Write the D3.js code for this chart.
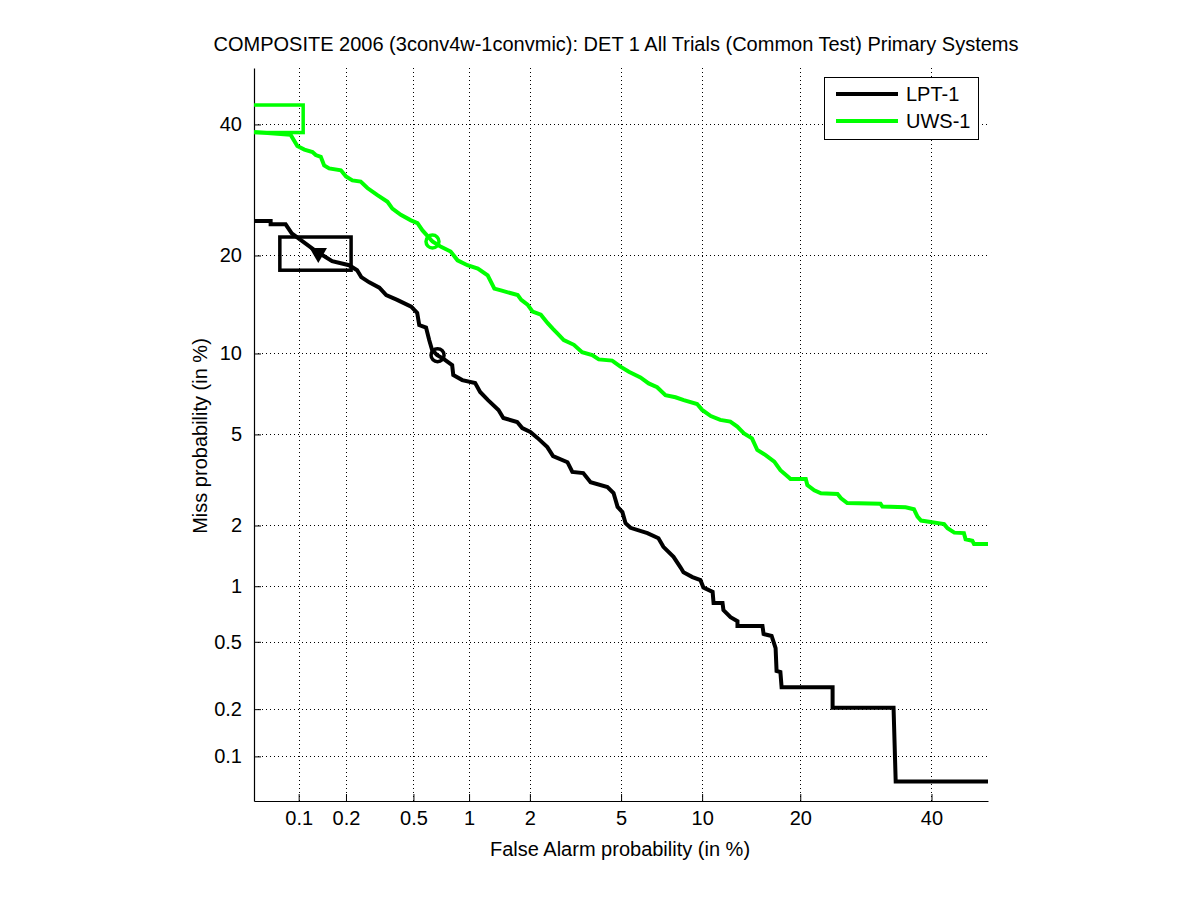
<!DOCTYPE html>
<html><head><meta charset="utf-8">
<script src="https://cdn.jsdelivr.net/npm/d3@7/dist/d3.min.js"></script>
<style>
body{margin:0;background:#fff;}
svg{display:block;font-family:"Liberation Sans",Arial,Helvetica,sans-serif;}
</style></head>
<body>
<svg id="chart" width="1201" height="900"></svg>
<script>
// ---- data (percent) ----
const tickValues = [0.1, 0.2, 0.5, 1, 2, 5, 10, 20, 40];
const tickLabels = ["0.1", "0.2", "0.5", "1", "2", "5", "10", "20", "40"];
const axisLimits = [0.05, 50];

const seriesNames = ["LPT-1", "UWS-1"];
const seriesColors = ["#000000", "#00ff00"];

const lptFA = [0.05,0.065,0.065,0.082,0.090,0.126,0.164,0.209,0.234,0.248,0.277,0.318,0.349,0.404,0.486,0.525,0.539,0.588,0.612,0.635,0.677,0.730,0.815,0.826,0.921,1.075,1.14,1.25,1.41,1.49,1.74,1.84,2.01,2.17,2.41,2.56,2.97,3.12,3.48,3.74,4.40,4.66,4.84,5.06,5.21,5.45,6.34,6.98,7.28,7.93,8.40,8.61,9.26,9.87,10.1,10.85,10.93,11.7,11.78,12.42,13.07,13.07,15.6,15.72,16.6,17.05,17.16,17.6,17.74,24.3,24.3,33.6,33.95,50];
const lptMiss = [24.6,24.6,24.15,24.15,22.9,20.7,19.3,18.8,18.2,17.4,16.8,16.2,15.4,14.9,14.2,13.57,12.42,12.2,11.1,10.28,9.87,9.6,9.11,8.41,8.06,7.86,7.29,6.80,6.24,5.81,5.60,5.30,5.11,4.84,4.44,4.07,3.84,3.49,3.45,3.15,3.00,2.82,2.44,2.31,2.05,1.95,1.84,1.74,1.58,1.41,1.25,1.18,1.115,1.075,0.985,0.934,0.815,0.815,0.748,0.685,0.651,0.612,0.612,0.553,0.539,0.461,0.340,0.335,0.272,0.272,0.204,0.204,0.068,0.068];

const uwsFA = [0.05,0.0886,0.098,0.109,0.123,0.129,0.139,0.146,0.157,0.186,0.2,0.219,0.246,0.27,0.31,0.355,0.379,0.424,0.484,0.527,0.562,0.638,0.71,0.80,0.87,0.98,1.11,1.245,1.345,1.45,1.75,1.82,1.95,2.06,2.25,2.42,2.55,2.67,2.86,3.17,3.44,3.80,4.05,4.60,4.97,5.37,5.96,6.41,6.90,7.41,8.06,8.63,9.61,10.0,10.7,11.5,12.4,13.05,13.7,14.5,15.05,15.9,16.9,17.6,18.6,18.8,20.7,20.9,21.8,22.7,25.0,25.5,26.4,31.5,31.8,35.6,37.0,37.6,38.2,42.2,42.8,44.0,45.7,46.0,47.2,47.5,50];
const uwsMiss = [38.7,38.2,36.3,35.7,35.3,34.8,34.5,33.1,32.6,32.3,31.3,30.7,30.5,29.5,28.4,27.4,26.4,25.5,24.7,24.3,23.3,21.8,21.1,20.5,19.4,18.8,18.4,17.6,16.1,15.9,15.4,14.9,14.4,13.7,13.4,12.6,12.1,11.7,11.1,10.7,10.1,9.87,9.54,9.45,9.0,8.63,8.24,7.84,7.59,7.1,6.97,6.80,6.57,6.24,5.91,5.71,5.62,5.37,5.05,4.82,4.32,4.12,3.86,3.55,3.30,3.25,3.25,3.06,2.90,2.81,2.79,2.67,2.54,2.52,2.45,2.43,2.38,2.20,2.11,2.03,1.94,1.85,1.84,1.72,1.69,1.63,1.63];

// operating points: [fa, miss]
const lptActual = [0.68, 9.87];
const lptMinDcf = [0.134, 20.3];
const lptBox = [0.075, 0.215, 18.2, 22.4];   // faLo, faHi, missLo, missHi
const uwsActual = [0.638, 21.8];
const uwsBox = [0.03, 0.107, 38.6, 43.4];

// ---- probit ----
function normInv(p){
  const a=[-3.969683028665376e+01,2.209460984245205e+02,-2.759285104469687e+02,1.383577518672690e+02,-3.066479806614716e+01,2.506628277459239e+00];
  const b=[-5.447609879822406e+01,1.615858368580409e+02,-1.556989798598866e+02,6.680131188771972e+01,-1.328068155288572e+01];
  const c=[-7.784894002430293e-03,-3.223964580411365e-01,-2.400758277161838e+00,-2.549732539343734e+00,4.374664141464968e+00,2.938163982698783e+00];
  const d=[7.784695709041462e-03,3.224671290700398e-01,2.445134137142996e+00,3.754408661907416e+00];
  const pl=0.02425, ph=1-pl; let q,r;
  if(p<pl){q=Math.sqrt(-2*Math.log(p));return (((((c[0]*q+c[1])*q+c[2])*q+c[3])*q+c[4])*q+c[5])/((((d[0]*q+d[1])*q+d[2])*q+d[3])*q+1);}
  if(p<=ph){q=p-0.5;r=q*q;return (((((a[0]*r+a[1])*r+a[2])*r+a[3])*r+a[4])*r+a[5])*q/(((((b[0]*r+b[1])*r+b[2])*r+b[3])*r+b[4])*r+1);}
  q=Math.sqrt(-2*Math.log(1-p));return -(((((c[0]*q+c[1])*q+c[2])*q+c[3])*q+c[4])*q+c[5])/((((d[0]*q+d[1])*q+d[2])*q+d[3])*q+1);
}
const pr = v => normInv(v/100);

const L=254, R=988, T=68, B=801;
const xs = d3.scaleLinear().domain(axisLimits.map(pr)).range([L,R]);
const ys = d3.scaleLinear().domain(axisLimits.map(pr)).range([B,T]);
const X = v => xs(pr(v)), Y = v => ys(pr(v));
const FS = 20;

const svg = d3.select("#chart");
svg.append("defs").append("clipPath").attr("id","clip")
  .append("rect").attr("x",L).attr("y",T).attr("width",R-L).attr("height",B-T);

// grid
const grid = svg.append("g").attr("stroke","#000").attr("stroke-width",1).attr("stroke-dasharray","1,3");
tickValues.forEach(v=>{
  grid.append("line").attr("x1",Math.round(X(v))+0.5).attr("x2",Math.round(X(v))+0.5).attr("y1",T).attr("y2",B);
  grid.append("line").attr("y1",Math.round(Y(v))+0.5).attr("y2",Math.round(Y(v))+0.5).attr("x1",L).attr("x2",R);
});

// axes
const xAxis = d3.axisBottom(xs)
  .tickValues(tickValues.map(pr)).tickFormat((d,i)=>tickLabels[i]).tickSizeInner(-7).tickSizeOuter(0).tickPadding(10);
const yAxis = d3.axisLeft(ys)
  .tickValues(tickValues.map(pr)).tickFormat((d,i)=>tickLabels[i]).tickSizeInner(-7).tickSizeOuter(0).tickPadding(12);
const gx = svg.append("g").attr("transform",`translate(0,${B})`).call(xAxis);
const gy = svg.append("g").attr("transform",`translate(${L},0)`).call(yAxis);
[gx,gy].forEach(g=>{
  g.selectAll("text").attr("font-size",FS).attr("fill","#000").attr("font-family","Liberation Sans, Arial, sans-serif");
  g.selectAll("line").attr("stroke","#000");
  g.select(".domain").attr("stroke","#000").attr("stroke-width",1.2);
});

// curves
const plot = svg.append("g").attr("clip-path","url(#clip)");
const line = d3.line().x(d=>X(d[0])).y(d=>Y(d[1]));
const lptPts = lptFA.map((f,i)=>[f,lptMiss[i]]);
const uwsPts = uwsFA.map((f,i)=>[f,uwsMiss[i]]);
plot.append("path").attr("d",line(uwsPts)).attr("fill","none").attr("stroke",seriesColors[1]).attr("stroke-width",4).attr("stroke-linejoin","miter");
plot.append("path").attr("d",line(lptPts)).attr("fill","none").attr("stroke",seriesColors[0]).attr("stroke-width",4).attr("stroke-linejoin","miter");

// boxes
function box(b,color){
  plot.append("rect").attr("x",X(b[0])).attr("y",Y(b[3])).attr("width",X(b[1])-X(b[0])).attr("height",Y(b[2])-Y(b[3]))
    .attr("fill","none").attr("stroke",color).attr("stroke-width",3.5);
}
box(lptBox,seriesColors[0]);
box(uwsBox,seriesColors[1]);

// markers
plot.append("circle").attr("cx",X(lptActual[0])).attr("cy",Y(lptActual[1])).attr("r",6.5).attr("fill","none").attr("stroke",seriesColors[0]).attr("stroke-width",3.5);
plot.append("circle").attr("cx",X(uwsActual[0])).attr("cy",Y(uwsActual[1])).attr("r",6.5).attr("fill","none").attr("stroke",seriesColors[1]).attr("stroke-width",3.5);
plot.append("path").attr("d",d3.symbol().type(d3.symbolTriangle).size(130)())
  .attr("transform",`translate(${X(lptMinDcf[0])},${Y(lptMinDcf[1])}) rotate(180)`).attr("fill","#000");

// title & labels
svg.append("text").attr("x",616).attr("y",51).attr("text-anchor","middle").attr("font-size",FS)
  .text("COMPOSITE 2006 (3conv4w-1convmic): DET 1 All Trials (Common Test) Primary Systems");
svg.append("text").attr("x",620).attr("y",856).attr("text-anchor","middle").attr("font-size",FS)
  .text("False Alarm probability (in %)");
svg.append("text").attr("transform","translate(207,436) rotate(-90)").attr("text-anchor","middle").attr("font-size",FS)
  .text("Miss probability (in %)");

// legend
const lg = svg.append("g");
lg.append("rect").attr("x",824.5).attr("y",77.5).attr("width",154).attr("height",62).attr("fill","#fff").attr("stroke","#000").attr("stroke-width",1);
seriesNames.forEach((n,i)=>{
  const yy = 94 + i*27;
  lg.append("line").attr("x1",836).attr("x2",898).attr("y1",yy).attr("y2",yy).attr("stroke",seriesColors[i]).attr("stroke-width",4);
  lg.append("text").attr("x",906).attr("y",yy+7).attr("font-size",FS).text(n);
});
</script>
</body></html>
